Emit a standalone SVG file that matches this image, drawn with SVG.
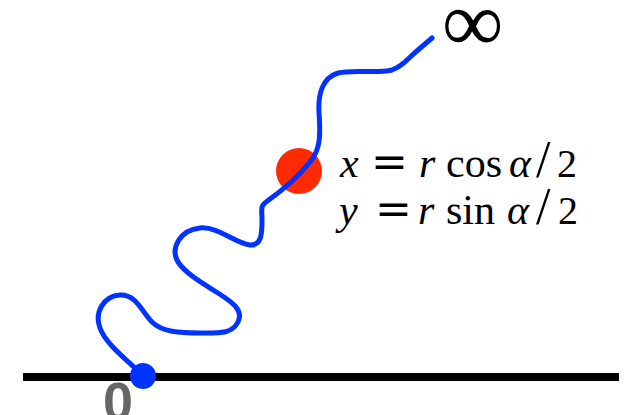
<svg xmlns="http://www.w3.org/2000/svg" width="632" height="415" viewBox="0 0 632 415">
<style>
.m{font-family:"Liberation Serif",serif;font-size:42px;fill:#000}
.i{font-style:italic}
.eq{font-family:"DejaVu Serif",serif;font-size:44px}
.sl{font-size:52px}
.two{font-size:40px}
</style>
<rect width="632" height="415" fill="#fff"/>
<g id="axis"><rect x="23" y="373" width="596" height="8" fill="#000"/></g>
<g id="point"><circle cx="299" cy="171" r="23" fill="#ff2a00"/></g>
<g id="connectors">
<path d="M143,376 C130,362 106,345 100,328 C94,312 104,296 120,295 C136,294 142,312 152,322 C162,332 180,333 200,333 C220,333 232,334 238,322 C244,310 232,302 218,293 C204,284 186,274 178,262 C170,248 180,230 200,228 C218,226 236,244 250,245 C262,246 262,232 262,220 C262,210 260,206 266,202 C280,192 296,180 310,162 C322,148 320,130 319,112 C318,95 322,78 338,73 C354,69 376,74 392,70 C404,66 408,58 418,50 L432,38" fill="none" stroke="#0033ff" stroke-width="5" stroke-linecap="round" stroke-linejoin="round"/>
</g>
<g id="origin"><circle cx="143" cy="376" r="13" fill="#0033ff"/></g>
<g id="label-zero"><text x="103" y="420" font-family="Liberation Sans,Arial,sans-serif" font-weight="bold" font-size="54" fill="#666">0</text></g>
<g id="label-inf"><text x="442" y="51" font-family="Liberation Serif,serif" font-size="86" fill="#000">∞</text></g>
<g id="formula">
<text class="m" y="177"><tspan class="i" x="340">x</tspan><tspan class="eq" x="371">=</tspan><tspan class="i" x="419">r</tspan><tspan x="446">cos</tspan><tspan class="i" x="509">α</tspan><tspan class="sl" x="536">/</tspan><tspan class="two" x="557">2</tspan></text>
<text class="m" y="224"><tspan class="i" x="339">y</tspan><tspan class="eq" x="375">=</tspan><tspan class="i" x="418">r</tspan><tspan x="446">sin</tspan><tspan class="i" x="507">α</tspan><tspan class="sl" x="536">/</tspan><tspan class="two" x="558">2</tspan></text>
</g>
</svg>
